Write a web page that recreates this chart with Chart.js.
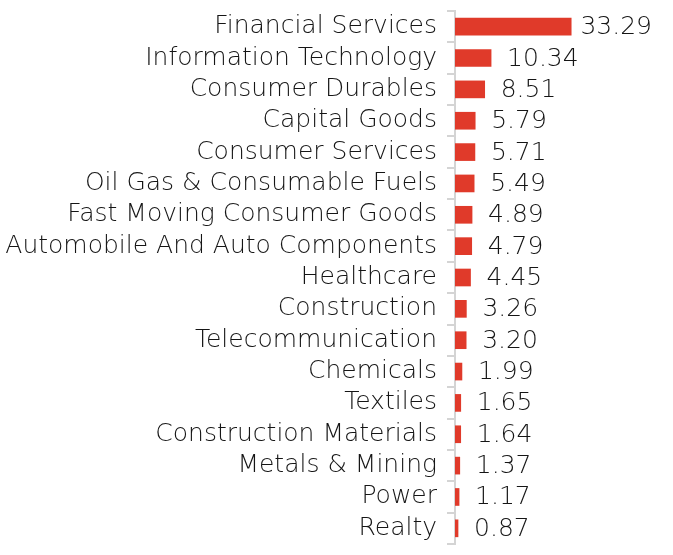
<!DOCTYPE html>
<html>
<head>
<meta charset="utf-8">
<script src="https://cdn.jsdelivr.net/npm/chart.js@4.4.1/dist/chart.umd.min.js"></script>
<style>
  html, body { margin: 0; padding: 0; background: #fff; }
  #wrap { width: 673px; height: 555px; }
</style>
</head>
<body>
<div id="wrap"><canvas id="sectorChart" width="673" height="555"></canvas></div>
<script>
// Sector allocation (%)
const sectors = [
  "Financial Services",
  "Information Technology",
  "Consumer Durables",
  "Capital Goods",
  "Consumer Services",
  "Oil Gas & Consumable Fuels",
  "Fast Moving Consumer Goods",
  "Automobile And Auto Components",
  "Healthcare",
  "Construction",
  "Telecommunication",
  "Chemicals",
  "Textiles",
  "Construction Materials",
  "Metals & Mining",
  "Power",
  "Realty",
];
const weights = [33.29, 10.34, 8.51, 5.79, 5.71, 5.49, 4.89, 4.79, 4.45, 3.26, 3.2, 1.99, 1.65, 1.64, 1.37, 1.17, 0.87];

const fontFamily = "'DejaVu Sans', sans-serif";
const fontSize = 25;
const textColor = "#151515";

// Value labels after each bar
const valueLabels = {
  id: "valueLabels",
  afterDatasetsDraw(chart) {
    const ctx = chart.ctx;
    const meta = chart.getDatasetMeta(0);
    ctx.save();
    ctx.font = "200 " + fontSize + "px " + fontFamily;
    ctx.fillStyle = textColor;
    ctx.textBaseline = "middle";
    ctx.textAlign = "left";
    meta.data.forEach(function (bar, i) {
      const text = weights[i].toFixed(2);
      const w = ctx.measureText(text).width;
      // keep the longest bar's label inside the canvas
      const x = Math.min(bar.x + 16, chart.width - 21 - w);
      ctx.fillText(text, x, bar.y + 1);
    });
    ctx.restore();
  },
};

const config = {
  type: "bar",
  data: {
    labels: sectors,
    datasets: [
      {
        data: weights,
        backgroundColor: "#e03a2a",
        borderWidth: 0,
        barThickness: 17,
      },
    ],
  },
  options: {
    indexAxis: "y",
    responsive: false,
    animation: false,
    layout: {
      padding: { top: 11, bottom: 11, left: 0, right: 33 },
    },
    plugins: {
      legend: { display: false },
      tooltip: { enabled: false },
    },
    scales: {
      x: {
        display: false,
        min: 0,
        max: 53,
      },
      y: {
        afterFit: function (scale) {
          scale.width = 455;
          scale.paddingTop = 0;
          scale.paddingBottom = 0;
        },
        grid: {
          display: true,
          drawOnChartArea: false,
          offset: true,
          tickLength: 8,
          color: "#d4d4d4",
          lineWidth: 2,
        },
        border: {
          display: true,
          color: "#d4d4d4",
          width: 2,
        },
        ticks: {
          autoSkip: false,
          color: textColor,
          padding: 10,
          font: { family: fontFamily, size: fontSize, weight: 200 },
        },
      },
    },
  },
  plugins: [valueLabels],
};

document.addEventListener("DOMContentLoaded", function () {
  new Chart(document.getElementById("sectorChart"), config);
});
</script>
</body>
</html>
